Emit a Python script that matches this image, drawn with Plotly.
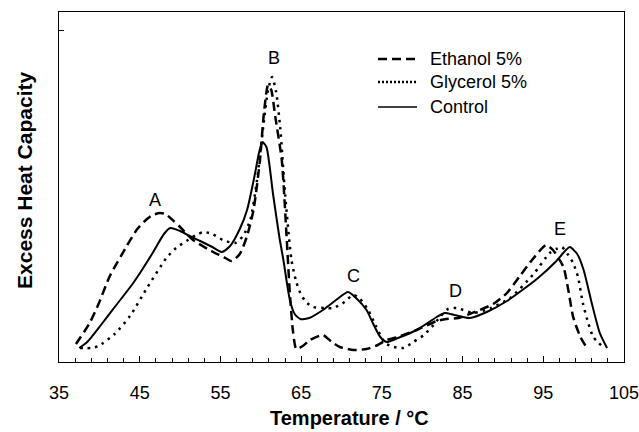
import plotly.graph_objects as go

# ---- data (temperature in °C, excess heat capacity in arbitrary units) ----
control_T = [37.5, 38.5, 40.1, 42.0, 44.2, 46.6, 48.0, 48.8, 50.0, 51.2, 52.5, 54.0, 55.2, 56.2, 57.4,
             58.3, 59.2, 59.8, 60.2, 60.7, 61.5, 62.3, 62.8, 63.6, 64.2, 64.9, 66.0, 67.7, 69.5, 70.8,
             71.8, 73.1, 74.0, 74.8, 75.6, 77.0, 79.3, 81.8, 82.8, 84.0, 85.9, 88.0, 90.5, 94.2, 96.5,
             97.8, 98.3, 99.2, 100.0, 101.0, 102.0, 102.9]
control_h = [14, 20, 36, 56, 79, 109, 128, 134, 131, 126, 121, 115, 110, 116, 133,
             152, 185, 210, 220, 215, 169, 125, 102, 62, 48, 43, 44, 52, 63, 70,
             64, 52, 37, 25, 20, 24, 32, 45, 49, 47, 44, 50, 61, 83, 100,
             112, 115, 108, 92, 59, 29, 14]

ethanol_T = [37.1, 38.8, 40.0, 41.3, 43.4, 44.7, 45.9, 46.6, 47.5, 48.2, 49.2, 50.0, 51.6, 54.1, 55.4,
             56.4, 57.4, 58.3, 59.1, 59.9, 60.4, 60.9, 61.3, 61.8, 62.6, 63.2, 63.6, 64.0, 64.4, 65.2,
             66.1, 67.7, 68.8, 69.8, 71.5, 73.1, 74.5, 75.6, 77.0, 79.3, 81.8, 83.0, 84.5, 86.5, 88.8,
             90.5, 92.1, 93.7, 95.0, 95.4, 96.2, 97.5, 98.1, 98.7, 99.6, 100.4]
ethanol_h = [18, 39, 60, 86, 116, 133, 143, 147, 149, 148, 141, 135, 122, 110, 105,
             101, 108, 126, 152, 202, 250, 277, 272, 245, 202, 125, 69, 30, 13, 16,
             22, 27, 20, 15, 12, 13, 17, 22, 25, 32, 41, 43, 44, 50, 58,
             69, 86, 103, 115, 117, 112, 95, 72, 45, 25, 14]

glycerol_T = [37.6, 39.0, 39.9, 41.9, 43.8, 45.9, 48.3, 49.5, 50.8, 52.0, 52.9, 54.0, 55.3, 56.8, 57.8,
              58.7, 59.5, 60.3, 60.9, 61.4, 61.9, 62.4, 63.0, 63.8, 64.4, 64.9, 65.6, 66.5, 68.0, 69.0,
              70.4, 71.4, 72.2, 73.3, 74.2, 75.4, 76.5, 77.7, 78.9, 80.2, 81.4, 82.3, 83.2, 84.3, 86.3,
              88.5, 90.9, 93.8, 95.8, 96.6, 97.3, 98.0, 98.7, 99.3, 99.9, 100.6, 101.2, 102.4]
glycerol_h = [14, 14, 16, 28, 46, 74, 104, 114, 121, 127, 130, 128, 122, 119, 126,
              142, 180, 235, 272, 285, 270, 235, 169, 102, 80, 69, 60, 55, 54, 54,
              60, 67, 64, 52, 37, 19, 15, 14, 20, 27, 37, 46, 53, 54, 49,
              54, 64, 88, 109, 113, 115, 108, 99, 85, 59, 38, 25, 15]

series_names = ["Ethanol 5%", "Glycerol 5%", "Control"]

peak_labels = ["A", "B", "C", "D", "E"]
peak_T = [46.9, 61.6, 71.5, 84.1, 97.1]
peak_h = [162, 304, 86, 71, 133]

x_ticks = [35, 45, 55, 65, 75, 85, 95, 105]
y_tick = [332]

FONT = "Liberation Sans, Arial, sans-serif"
styles = [dict(width=2.5, dash="9px,5px"),
          dict(width=2.5, dash="2.5px,5px"),
          dict(width=2, dash="solid")]

fig = go.Figure()
for name, xs, ys, st in zip(series_names, [ethanol_T, glycerol_T, control_T],
                            [ethanol_h, glycerol_h, control_h], styles):
    fig.add_trace(go.Scatter(x=xs, y=ys, mode="lines", name=name, showlegend=False,
                             line=dict(color="black", width=st["width"], dash=st["dash"],
                                       shape="spline", smoothing=0.6)))

# manual legend (line sample + text), positioned in paper coordinates
leg_x0, leg_x1, leg_tx = (378 - 59) / 565, (417 - 59) / 565, (428 - 59) / 565
leg_rows_px = [59, 82, 107]
legend_dash = ["9px,5px", "2px,2px", "solid"]
legend_w = [2.5, 2.5, 1.5]
for name, ypx, d, w in zip(series_names, leg_rows_px, legend_dash, legend_w):
    yp = (362 - ypx) / 350
    fig.add_shape(type="line", xref="paper", yref="paper", x0=leg_x0, x1=leg_x1, y0=yp, y1=yp,
                  line=dict(color="black", width=w, dash=d))
    fig.add_annotation(x=leg_tx, y=yp, xref="paper", yref="paper", text=name, showarrow=False,
                       xanchor="left", yanchor="middle",
                       font=dict(family=FONT, size=18, color="black"))

for lab, t, h in zip(peak_labels, peak_T, peak_h):
    fig.add_annotation(x=t, y=h, text=lab, showarrow=False, xref="x", yref="y",
                       font=dict(family=FONT, size=18, color="black"))

fig.add_annotation(x=0.515, y=(362 - 418) / 350, xref="paper", yref="paper",
                   text="<b>Temperature / °C</b>",
                   showarrow=False, xanchor="center", yanchor="middle",
                   font=dict(family=FONT, size=20, color="black"))
fig.add_annotation(x=-0.062, y=0.52, xref="paper", yref="paper", text="<b>Excess Heat Capacity</b>",
                   showarrow=False, textangle=-90, xanchor="center", yanchor="middle",
                   font=dict(family=FONT, size=21, color="black"))

fig.update_layout(
    width=639, height=432,
    margin=dict(l=59, r=15, t=12, b=70),
    paper_bgcolor="white", plot_bgcolor="white",
    font=dict(family=FONT, size=18, color="black"),
    showlegend=False,
    xaxis=dict(range=[35, 105], tickvals=x_ticks, ticktext=[str(v) for v in x_ticks],
               ticks="inside", ticklen=6, tickcolor="black", tickwidth=1,
               minor=dict(dtick=2, tick0=35, ticks="inside", ticklen=4, tickcolor="black"),
               showline=True, linecolor="black", linewidth=1, mirror=True,
               showgrid=False, zeroline=False, ticklabelstandoff=14,
               ticklabeloverflow="allow", automargin=False,
               tickfont=dict(family=FONT, size=18, color="black")),
    yaxis=dict(range=[0, 350], tickvals=y_tick, showticklabels=False,
               ticks="inside", ticklen=5, tickcolor="black", automargin=False,
               showline=True, linecolor="black", linewidth=1, mirror=True,
               showgrid=False, zeroline=False),
)

fig.write_html("out.html")
